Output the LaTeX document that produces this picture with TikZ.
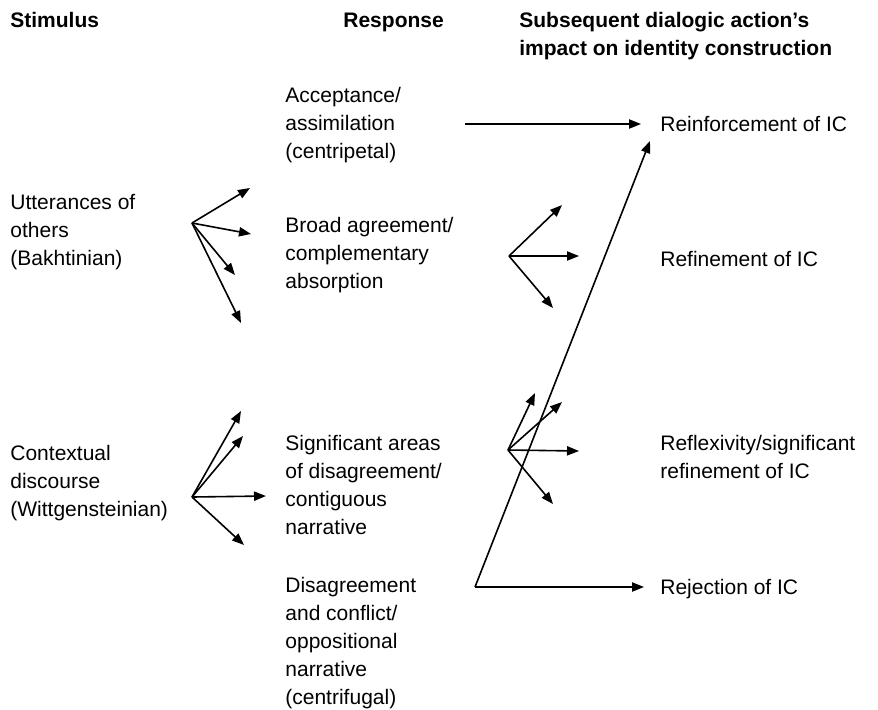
\documentclass[tikz,border=0pt]{standalone}
\usepackage{fontspec}
\setmainfont{Liberation Sans}
\usetikzlibrary{arrows.meta}

\begin{document}
\begin{tikzpicture}[x=0.5pt, y=-0.5pt,
  lbl/.style={anchor=west, align=left, inner sep=0pt, font=\fontsize{10.5}{14}\selectfont},
  head/.style={lbl, font=\fontsize{10.5}{14}\selectfont\bfseries},
  arr/.style={-{Triangle[length=6pt,width=4.6pt]}, line width=0.8pt}]
\useasboundingbox (0,0) rectangle (878,709);

% Headings
\node[head, anchor=base west] (stim) at (10,27) {Stimulus};
\node[head, anchor=base west] (resp) at (343,27) {Response};
\node[head] (subs) at (519,36) {Subsequent dialogic action's\\impact on identity construction};

% Stimulus column
\node[lbl] (utter) at (10,232) {Utterances of\\others\\(Bakhtinian)};
\node[lbl] (context) at (10,483) {Contextual\\discourse\\(Wittgensteinian)};

% Response column
\node[lbl] (accept) at (285,125) {Acceptance/\\assimilation\\(centripetal)};
\node[lbl] (broad) at (285,255) {Broad agreement/\\complementary\\absorption};
\node[lbl] (signif) at (285,485) {Significant areas\\of disagreement/\\contiguous\\narrative};
\node[lbl] (disagree) at (285,643) {Disagreement\\and conflict/\\oppositional\\narrative\\(centrifugal)};

% Impact column
\node[lbl] (reinf) at (660,124) {Reinforcement of IC};
\node[lbl] (refine) at (660,259) {Refinement of IC};
\node[lbl] (reflex) at (660,457) {Reflexivity/significant\\refinement of IC};
\node[lbl] (reject) at (660,589) {Rejection of IC};

% Fan points
\coordinate (b0) at (192,223);
\coordinate (b1) at (250,188);
\coordinate (b2) at (251,234);
\coordinate (b3) at (235,275);
\coordinate (b4) at (241,323);

\coordinate (w0) at (192,497);
\coordinate (w1) at (241,411);
\coordinate (w2) at (243,436);
\coordinate (w3) at (266,496);
\coordinate (w4) at (244,545);

\coordinate (r0) at (509,256);
\coordinate (r1) at (562,205);
\coordinate (r2) at (579,256);
\coordinate (r3) at (553,308);

\coordinate (s0) at (508,450);
\coordinate (s1) at (535,393);
\coordinate (s2) at (562,402);
\coordinate (s3) at (579,451);
\coordinate (s4) at (553,504);

\coordinate (a0) at (465,124);
\coordinate (a1) at (641,124);
\coordinate (c0) at (475,587);
\coordinate (c1) at (650,141);
\coordinate (c2) at (644,587);

% Arrows
\foreach \t in {b1,b2,b3,b4} \draw[arr] (b0) -- (\t);
\foreach \t in {w1,w2,w3,w4} \draw[arr] (w0) -- (\t);
\foreach \t in {r1,r2,r3} \draw[arr] (r0) -- (\t);
\foreach \t in {s1,s2,s3,s4} \draw[arr] (s0) -- (\t);
\draw[arr] (a0) -- (a1);
\draw[arr] (c0) -- (c1);
\draw[arr] (c0) -- (c2);
\end{tikzpicture}
\end{document}
